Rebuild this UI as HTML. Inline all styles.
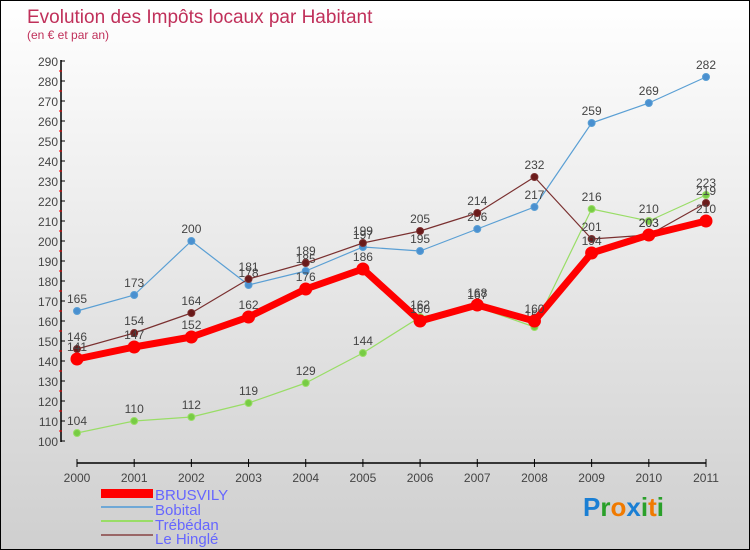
<!DOCTYPE html>
<html><head><meta charset="utf-8"><style>
body{margin:0;}
#c{width:748px;height:548px;border:1px solid #000;position:relative;background:linear-gradient(#ffffff,#cfcfcf);font-family:"Liberation Sans",sans-serif;}
</style></head><body>
<div id="c">
<svg id="s" width="748" height="548" style="position:absolute;left:0;top:0">
<text x="26" y="22" font-size="19" fill="#c0305a">Evolution des Impôts locaux par Habitant</text>
<text x="26" y="38" font-size="12" fill="#c0305a">(en € et par an)</text>
<g id="axes"></g><g id="series"></g>
<g>
<rect x="100" y="488" width="52" height="9" fill="#f00"/>
<text x="154" y="499" font-size="15" fill="#6666ff">BRUSVILY</text>
<line x1="100" y1="506" x2="152" y2="506" stroke="#6fa8d6" stroke-width="2"/>
<text x="154" y="514" font-size="15" fill="#6666ff">Bobital</text>
<line x1="100" y1="520" x2="152" y2="520" stroke="#99dd66" stroke-width="2"/>
<text x="154" y="529" font-size="15" fill="#6666ff">Trébédan</text>
<line x1="100" y1="534" x2="152" y2="534" stroke="#996666" stroke-width="2"/>
<text x="154" y="543" font-size="15" fill="#6666ff">Le Hinglé</text>
</g>
<g font-size="26" font-weight="bold">
<text x="582" y="515"><tspan fill="#1a7fd4">P</tspan><tspan fill="#2aa02a">r</tspan><tspan fill="#f07a00">o</tspan><tspan fill="#1a7fd4">x</tspan><tspan fill="#2aa02a">i</tspan><tspan fill="#f07a00">t</tspan><tspan fill="#2aa02a">i</tspan></text>
</g>
</svg>
</div>
<script>
const years=["2000","2001","2002","2003","2004","2005","2006","2007","2008","2009","2010","2011"];
const yTicks=[100,110,120,130,140,150,160,170,180,190,200,210,220,230,240,250,260,270,280,290];
const brusvily=[141,147,152,162,176,186,160,168,160,194,203,210];
const bobital=[165,173,200,178,185,197,195,206,217,259,269,282];
const trebedan=[104,110,112,119,129,144,162,167,157,216,210,223];
const leHingle=[146,154,164,181,189,199,205,214,232,201,203,219];
const NS="http://www.w3.org/2000/svg";
function X(i){return 76+i*(705-76)/11;}
function Y(v){return 440-(v-100)*2;}
function mk(tag,attrs,parent){const e=document.createElementNS(NS,tag);for(const k in attrs)e.setAttribute(k,attrs[k]);parent.appendChild(e);return e;}
const ax=document.getElementById('axes');
let yl=mk('line',{x1:60,y1:59,x2:60,y2:441,stroke:'#000','stroke-width':1.5},ax);


yTicks.forEach(v=>{
 const y=Y(v);
 mk('line',{x1:60,y1:y,x2:64,y2:y,stroke:'#000'},ax);
 if(v<290)mk('line',{x1:58,y1:y-10,x2:61,y2:y-10,stroke:'#f00'},ax);
 const t=mk('text',{x:57,y:y+5,'font-size':12,'text-anchor':'end',fill:'#444'},ax);
 t.textContent=v;
 
 
});
let xl=mk('line',{x1:76,y1:462,x2:705,y2:462,stroke:'#000','stroke-width':1.5},ax);


years.forEach((yr,i)=>{
 mk('line',{x1:X(i),y1:458,x2:X(i),y2:466,stroke:'#000'},ax);
 const t=mk('text',{x:X(i),y:466+15,'font-size':12,'text-anchor':'middle',fill:'#444'},ax);
 t.textContent=yr;
 
 
});
const sg=document.getElementById('series');
function draw(vals,color,w,r,dot,name){
 const g=mk('g',{},sg);
 
 
 const pl=mk('polyline',{points:vals.map((v,i)=>X(i)+','+Y(v)).join(' '),fill:'none',stroke:color,'stroke-width':w,'stroke-linejoin':'round'},g);
 
 
 vals.forEach((v,i)=>{
  const c=mk('circle',{cx:X(i),cy:Y(v),r:r,fill:dot,stroke:color,'stroke-width':1},g);
  
  
  const t=mk('text',{x:X(i),y:Y(v)-8,'font-size':12,'text-anchor':'middle',fill:'#444'},g);
  t.textContent=v;
  
  
 });
}
draw(bobital,'#5a9fd4',1.2,3.5,'#4a90d0','bobital');
draw(trebedan,'#99dd66',1.2,3.5,'#77cc44','trebedan');
draw(leHingle,'#7a3030',1.2,3.5,'#6a1a1a','le-hingle');
draw(brusvily,'#f00',7,6,'#f00','brusvily');
</script>
</body></html>
